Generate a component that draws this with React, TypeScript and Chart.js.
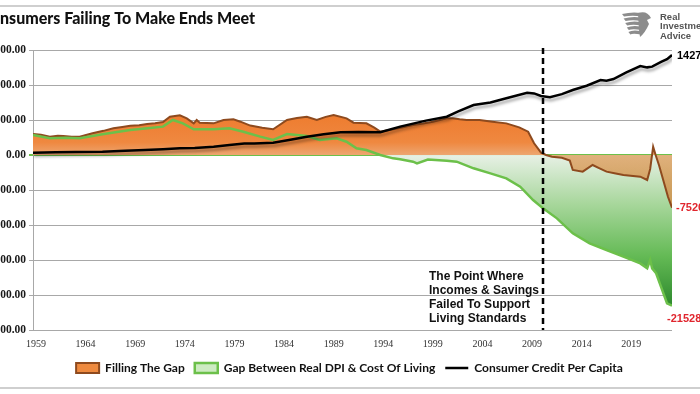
import React, { useEffect, useRef } from "react";
import { Chart, registerables } from "chart.js";

Chart.register(...registerables);

// ---------- data ----------
const titleText = "Consumers Failing To Make Ends Meet";
const seriesNames = [
  "Filling The Gap",
  "Gap Between Real DPI & Cost Of Living",
  "Consumer Credit Per Capita",
];
const noteLines = ["The Point Where", "Incomes & Savings", "Failed To Support", "Living Standards"];
const logoLines = ["Real", "Investment", "Advice"];
const eventYear = 2010.1;
const xMin = 1958.7;
const xMax = 2023.1;
const xTickYears = [1959, 1964, 1969, 1974, 1979, 1984, 1989, 1994, 1999, 2004, 2009, 2014, 2019];
const yMin = -25000;
const yMax = 15000;
const yStep = 5000;

const creditYears = [1958.7, 1961, 1963, 1965.7, 1968, 1970, 1971.8, 1973.5, 1975, 1976.9, 1978.5, 1980, 1981, 1982.9, 1984.5, 1986.3, 1988, 1989.7, 1991.5, 1993.7, 1995.7, 1998.3, 2000.4, 2001.5, 2003.1, 2004.8, 2006.4, 2008.5, 2009.2, 2009.9, 2010.8, 2012, 2013.1, 2014.5, 2015.9, 2016.5, 2017.2, 2018.5, 2019.9, 2020.6, 2021.1, 2022, 2022.6, 2023.1];
const creditValues = [330, 380, 430, 480, 620, 700, 810, 950, 1000, 1190, 1420, 1640, 1650, 1760, 2150, 2620, 2950, 3240, 3300, 3240, 4050, 4910, 5470, 6200, 7140, 7500, 8100, 8900, 8800, 8430, 8240, 8700, 9290, 9900, 10710, 10620, 10850, 11800, 12710, 12520, 12620, 13300, 13700, 14274];

const fillingYears = [1958.7, 1959.5, 1960.4, 1961.2, 1961.75, 1962.6, 1963.4, 1964.7, 1965.8, 1966.8, 1967.7, 1968.5, 1969.4, 1970.2, 1971, 1971.8, 1972.5, 1973.5, 1974.2, 1974.9, 1975.2, 1975.5, 1976.9, 1977.9, 1978.9, 1979.6, 1980.6, 1981.8, 1982.9, 1984.3, 1985.3, 1986.3, 1987.3, 1988.2, 1989, 1990.3, 1991, 1992.3, 1993.1, 1993.7, 1995, 1996, 1997, 1998, 1999, 2000.4, 2001, 2001.7, 2002.4, 2003.7, 2005, 2006.4, 2007.7, 2008.6, 2009.2, 2009.9, 2010.4, 2011, 2012, 2012.8, 2013.1, 2014.1, 2015.1, 2015.8, 2016.5, 2017.3, 2018.2, 2019.9, 2020.6, 2020.9, 2021.2, 2021.45, 2021.8, 2022.3, 2022.7, 2023.1];
const fillingValues = [3000, 2900, 2620, 2750, 2710, 2600, 2620, 3100, 3450, 3810, 4000, 4190, 4250, 4430, 4550, 4710, 5470, 5670, 5240, 4520, 5000, 4620, 4520, 5000, 5100, 4760, 4200, 3900, 3670, 5000, 5300, 5470, 5000, 5450, 5710, 5240, 4620, 4520, 3900, 3330, 3670, 3950, 4290, 4500, 4760, 5240, 5240, 5100, 5000, 5000, 4760, 4520, 3950, 3330, 1670, 330, 0, -250, -400, -800, -2140, -2380, -1430, -1900, -2380, -2600, -2860, -3100, -3570, -2000, 1190, 0, -1500, -4000, -6000, -7520];

const gapYears = [1958.7, 1960.4, 1962, 1963.4, 1965.7, 1967, 1968.5, 1970, 1971.8, 1972.8, 1973.8, 1974.9, 1976.9, 1978.5, 1979.9, 1981.6, 1982.9, 1984.3, 1986.3, 1987.6, 1989.3, 1990.3, 1991.3, 1992.3, 1993.7, 1995, 1995.7, 1997, 1997.4, 1998.5, 2000.4, 2001.4, 2003.1, 2004.8, 2006.4, 2007.8, 2009.1, 2010.1, 2011.5, 2013.1, 2014.8, 2016.5, 2018.2, 2019.9, 2020.6, 2020.9, 2021.1, 2021.5, 2022.6, 2023.1];
const gapValues = [2860, 2380, 2450, 2380, 2950, 3250, 3570, 3800, 4050, 5000, 4520, 3670, 3670, 3810, 3330, 2620, 2140, 3000, 2710, 2140, 2400, 1900, 950, 710, 0, -480, -620, -950, -1190, -650, -810, -950, -1900, -2620, -3330, -4520, -6430, -7620, -9050, -11190, -12620, -13570, -14530, -15480, -16190, -15000, -16190, -16900, -21190, -21528];

// ---------- layout constants ----------
const SHIFT = 30;
const CANVAS_W = 760;
const CANVAS_H = 394;

const toPoints = (xs: number[], ys: number[]) => xs.map((x, i) => ({ x, y: ys[i] }));

function orangeFill(c: any) {
  const chart = c.chart;
  const { ctx, chartArea, scales } = chart;
  if (!chartArea) return "#EE8A3F";
  const y = scales.y;
  const top = y.getPixelForValue(6000);
  const bot = y.getPixelForValue(-8000);
  const g = ctx.createLinearGradient(0, top, 0, bot);
  const z = (y.getPixelForValue(0) - top) / (bot - top);
  g.addColorStop(0, "#EE7B2E");
  g.addColorStop(z * 0.7, "#EF8840");
  g.addColorStop(z - 0.005, "#EDA56F");
  g.addColorStop(z + 0.005, "rgba(222,152,84,0.72)");
  g.addColorStop(1, "rgba(206,140,70,0.85)");
  return g;
}

function greenFill(c: any) {
  const chart = c.chart;
  const { ctx, chartArea, scales } = chart;
  if (!chartArea) return "#8CCB7E";
  const y = scales.y;
  const top = y.getPixelForValue(5000);
  const bot = y.getPixelForValue(-22000);
  const g = ctx.createLinearGradient(0, top, 0, bot);
  const z = (y.getPixelForValue(0) - top) / (bot - top);
  g.addColorStop(0, "#7DBF5A");
  g.addColorStop(z - 0.005, "#CFE6C8");
  g.addColorStop(z + 0.005, "#E6F0E4");
  g.addColorStop(0.45, "#A6D69A");
  g.addColorStop(0.72, "#64BA55");
  g.addColorStop(1, "#2A862B");
  return g;
}

const overlayPlugin = {
  id: "overlay",
  beforeDatasetDraw(chart: any, args: any) {
    if (args.index === 2) {
      const ctx = chart.ctx;
      ctx.save();
      ctx.shadowColor = "rgba(0,0,0,0.35)";
      ctx.shadowBlur = 3;
      ctx.shadowOffsetY = 3;
      ctx.shadowOffsetX = 1;
    }
  },
  afterDatasetDraw(chart: any, args: any) {
    if (args.index === 2) chart.ctx.restore();
  },
  afterDatasetsDraw(chart: any) {
    const { ctx, chartArea, scales } = chart;
    const x = scales.x;
    const y = scales.y;
    // dashed event line
    const ex = x.getPixelForValue(eventYear);
    ctx.save();
    ctx.strokeStyle = "#000";
    ctx.lineWidth = 2.5;
    ctx.setLineDash([6, 4]);
    ctx.beginPath();
    ctx.moveTo(ex, chartArea.top - 2);
    ctx.lineTo(ex, chartArea.bottom);
    ctx.stroke();
    ctx.restore();

    // note text
    ctx.save();
    ctx.fillStyle = "#111";
    ctx.font = "bold 12px 'Liberation Sans', Arial, sans-serif";
    ctx.textBaseline = "middle";
    ctx.textAlign = "left";
    noteLines.forEach((t, i) => ctx.fillText(t, ex - 114, 277 + i * 14));
    ctx.restore();

    // end labels
    ctx.save();
    ctx.font = "bold 11px 'Liberation Sans', Arial, sans-serif";
    ctx.textBaseline = "middle";
    ctx.textAlign = "left";
    const cLast = creditValues.length - 1;
    ctx.fillStyle = "#000";
    ctx.fillText(String(creditValues[cLast]), x.getPixelForValue(creditYears[cLast]) + 5, y.getPixelForValue(creditValues[cLast]) + 1);
    const fLast = fillingValues.length - 1;
    ctx.fillStyle = "#E0262E";
    ctx.fillText(String(fillingValues[fLast]), x.getPixelForValue(fillingYears[fLast]) + 4, y.getPixelForValue(fillingValues[fLast]));
    const gLast = gapValues.length - 1;
    ctx.fillText(String(gapValues[gLast]), x.getPixelForValue(gapYears[gLast]) - 5, y.getPixelForValue(gapValues[gLast]) + 13);
    ctx.restore();
  },
  afterDraw(chart: any) {
    const ctx = chart.ctx;
    ctx.save();
    // frame lines
    ctx.strokeStyle = "#CFCFCF";
    ctx.lineWidth = 2;
    ctx.beginPath();
    ctx.moveTo(0, 6);
    ctx.lineTo(CANVAS_W, 6);
    ctx.moveTo(0, 388);
    ctx.lineTo(CANVAS_W, 388);
    ctx.stroke();

    // title
    ctx.fillStyle = "#111";
    ctx.font = "900 16px Lato, 'Open Sans', sans-serif";
    ctx.textBaseline = "alphabetic";
    ctx.textAlign = "left";
    const coW = ctx.measureText("Co").width;
    ctx.fillText(titleText, SHIFT - coW, 24);

    // logo eagle
    const ox = SHIFT + 622;
    const oy = 10;
    ctx.fillStyle = "#8C8C8C";
    for (let i = 0; i < 5; i++) {
      const yy = oy + 4 + i * 4.5;
      ctx.beginPath();
      ctx.moveTo(ox + i * 1.6, yy);
      ctx.quadraticCurveTo(ox + 10, yy - 2.5, ox + 19, yy - 1);
      ctx.lineTo(ox + 19, yy + 2.4);
      ctx.quadraticCurveTo(ox + 10, yy + 0.8, ox + 2 + i * 1.6, yy + 2.6);
      ctx.closePath();
      ctx.fill();
    }
    ctx.beginPath();
    ctx.moveTo(ox + 16, oy + 3);
    ctx.quadraticCurveTo(ox + 25, oy, ox + 29, oy + 8);
    ctx.lineTo(ox + 25, oy + 10);
    ctx.lineTo(ox + 27, oy + 14);
    ctx.quadraticCurveTo(ox + 23, oy + 23, ox + 18, oy + 27);
    ctx.lineTo(ox + 17, oy + 20);
    ctx.closePath();
    ctx.fill();

    // logo text
    ctx.fillStyle = "#555";
    ctx.font = "bold 9.5px 'Liberation Sans', Arial, sans-serif";
    ctx.textBaseline = "middle";
    logoLines.forEach((t, i) => ctx.fillText(t, SHIFT + 660, 17 + i * 9.7));
    ctx.restore();
  },
};

export default function App() {
  const canvasRef = useRef<HTMLCanvasElement | null>(null);

  useEffect(() => {
    const canvas = canvasRef.current;
    if (!canvas) return;
    const legendFill = ["#EE8A3F", "#CDEBC2", "#000"];
    const legendStroke = ["#8E4A1E", "#6CC04A", "#000"];
    const legendWidth = [2, 2.5, 2.5];

    const chart = new Chart(canvas, {
      type: "line",
      data: {
        datasets: [
          {
            label: seriesNames[0],
            data: toPoints(fillingYears, fillingValues),
            borderColor: "#8E4A1E",
            borderWidth: 2,
            backgroundColor: orangeFill,
            fill: "origin",
            pointRadius: 0,
            tension: 0,
            order: 2,
          },
          {
            // green area (fill only, behind the orange area)
            label: seriesNames[1],
            data: toPoints(gapYears, gapValues),
            borderWidth: 0,
            borderColor: "rgba(0,0,0,0)",
            backgroundColor: greenFill,
            fill: "origin",
            pointRadius: 0,
            tension: 0,
            order: 3,
          },
          {
            label: seriesNames[2],
            data: toPoints(creditYears, creditValues),
            borderColor: "#000",
            borderWidth: 2.5,
            fill: false,
            pointRadius: 0,
            tension: 0,
            order: 0,
          },
          {
            // green outline, drawn above the orange area
            label: seriesNames[1],
            data: toPoints(gapYears, gapValues),
            borderColor: "#6CC04A",
            borderWidth: 2.5,
            fill: false,
            pointRadius: 0,
            tension: 0,
            order: 1,
          },
        ],
      },
      options: {
        responsive: false,
        animation: false,
        devicePixelRatio: 1,
        layout: { padding: { left: 0, right: 1, top: 50, bottom: 10 } },
        scales: {
          x: {
            type: "linear",
            min: xMin,
            max: xMax,
            afterBuildTicks: (scale: any) => {
              scale.ticks = xTickYears.map((v) => ({ value: v }));
            },
            afterFit: (scale: any) => {
              scale.height = 22;
            },
            grid: { display: false, drawTicks: false },
            border: { display: false },
            ticks: {
              autoSkip: false,
              maxRotation: 0,
              padding: 8,
              color: "#333",
              font: { family: "'Liberation Serif', serif", size: 10 },
              callback: (v: any) => String(v),
            },
          },
          y: {
            position: "left",
            min: yMin,
            max: yMax,
            afterFit: (scale: any) => {
              scale.width = 63;
            },
            ticks: {
              stepSize: yStep,
              padding: 3,
              color: "#1a1a1a",
              font: { family: "'Liberation Serif', serif", size: 11.5, weight: "bold" },
              callback: (v: any) => Number(v).toFixed(2),
            },
            grid: {
              color: (c: any) => (c.tick && c.tick.value === 0 ? "#6CC04A" : "#A8A8A8"),
              lineWidth: (c: any) => (c.tick && c.tick.value === 0 ? 2 : 1),
              tickLength: 4,
            },
            border: { color: "#A8A8A8", width: 1 },
          },
          yRight: {
            type: "linear",
            position: "right",
            min: 0,
            max: 1,
            afterFit: (scale: any) => {
              scale.width = 57;
            },
            grid: { display: false, drawTicks: false },
            border: { display: false },
            ticks: { display: false },
          },
        },
        plugins: {
          title: { display: false },
          tooltip: { enabled: false },
          legend: {
            position: "bottom",
            labels: {
              usePointStyle: true,
              pointStyleWidth: 23,
              boxHeight: 10,
              padding: 10,
              color: "#111",
              font: { family: "Lato, 'Open Sans', sans-serif", size: 12, weight: "bold" },
              generateLabels: (ch: any) =>
                ch.data.datasets.slice(0, 3).map((ds: any, i: number) => ({
                  text: ds.label,
                  datasetIndex: i,
                  fillStyle: legendFill[i],
                  strokeStyle: legendStroke[i],
                  lineWidth: legendWidth[i],
                  pointStyle: i === 2 ? "line" : "rect",
                  hidden: false,
                  fontColor: "#111",
                })),
            },
          },
        },
      },
      plugins: [overlayPlugin],
    } as any);

    return () => chart.destroy();
  }, []);

  return (
    <div
      style={{
        position: "fixed",
        left: 0,
        top: 0,
        width: 700,
        height: 394,
        overflow: "hidden",
        background: "#fff",
      }}
    >
      <div style={{ position: "absolute", left: -SHIFT, top: 0, width: CANVAS_W, height: CANVAS_H }}>
        <canvas ref={canvasRef} width={CANVAS_W} height={CANVAS_H} style={{ width: CANVAS_W, height: CANVAS_H }} />
      </div>
    </div>
  );
}
